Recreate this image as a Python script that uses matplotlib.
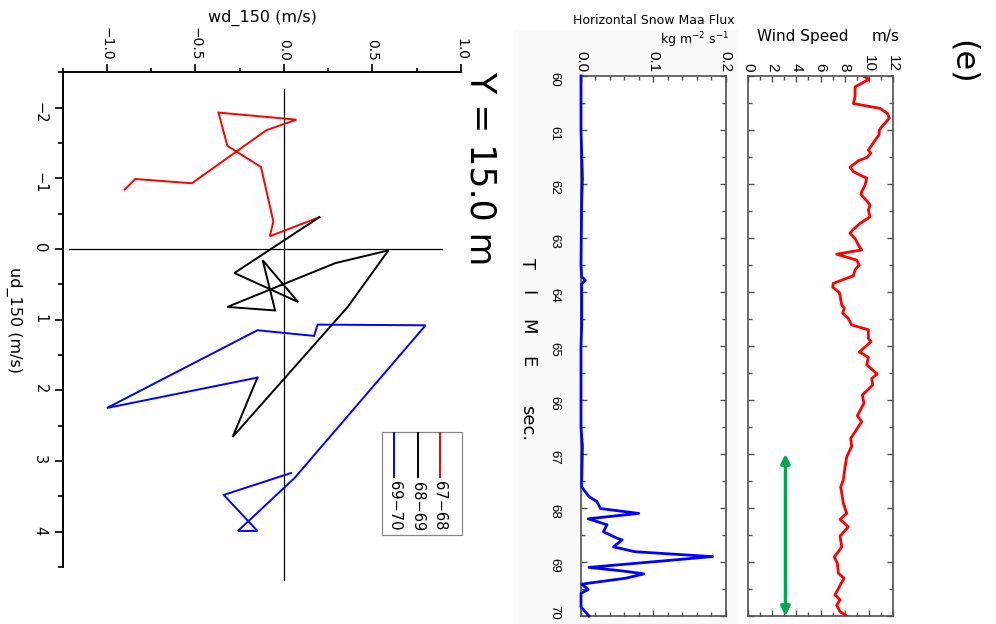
import matplotlib
matplotlib.use('Agg')
import matplotlib.pyplot as plt
from matplotlib.patches import Rectangle
from matplotlib.lines import Line2D
from matplotlib.ticker import MultipleLocator, FixedLocator, FormatStrFormatter, FuncFormatter

# ---------------- data ----------------
# hodograph (wd_150 horizontal, ud_150 vertical)
series_names = ['67\u221268', '68\u221269', '69\u221270']
series_colors = ['#ff0000', '#000000', '#0000ff']
ud_6768 = [-0.84, -0.99, -0.93, -1.68, -1.83, -1.93, -1.46, -1.16, -0.39, -0.18, -0.45]
wd_6768 = [-0.90, -0.84, -0.52, -0.10, 0.07, -0.37, -0.32, -0.13, -0.06, -0.08, 0.20]
ud_6869 = [-0.45, 0.34, 0.75, 0.16, 0.87, 0.82, 0.20, 0.02, 0.82, 2.66, 1.82]
wd_6869 = [0.20, -0.28, 0.08, -0.12, -0.05, -0.32, 0.29, 0.59, 0.36, -0.29, -0.15]
ud_6970 = [1.82, 2.25, 1.15, 1.23, 1.07, 1.08, 3.24, 3.99, 3.99, 3.48, 3.17]
wd_6970 = [-0.15, -1.00, -0.15, 0.17, 0.19, 0.80, 0.06, -0.26, -0.15, -0.34, 0.04]

# wind speed time series
wind_time = [60.00, 60.06, 60.20, 60.38, 60.51, 60.60, 60.69, 60.78, 60.94, 61.00,
             61.09, 61.28, 61.37, 61.43, 61.51, 61.57, 61.69, 61.77, 61.85, 61.89,
             62.02, 62.14, 62.20, 62.31, 62.39, 62.48, 62.61, 62.73, 62.84, 62.91,
             63.01, 63.16, 63.22, 63.30, 63.41, 63.50, 63.59, 63.70, 63.84, 63.91,
             64.01, 64.24, 64.30, 64.39, 64.49, 64.61, 64.70, 64.86, 64.92, 65.11,
             65.21, 65.35, 65.52, 65.60, 65.72, 65.91, 66.06, 66.29, 66.40, 66.62,
             66.71, 66.86, 67.05, 67.24, 67.48, 67.61, 67.73, 67.91, 68.10, 68.21,
             68.35, 68.52, 68.72, 68.91, 69.02, 69.21, 69.30, 69.43, 69.61, 69.70,
             69.80, 69.92, 70.00]
wind_speed = [9.54, 10.02, 8.86, 8.86, 8.72, 10.93, 11.53, 11.70, 11.07, 10.87,
              10.84, 10.24, 9.96, 10.16, 9.83, 9.13, 8.44, 8.72, 9.41, 9.83,
              9.69, 9.41, 9.35, 9.83, 10.10, 9.96, 10.10, 9.27, 8.72, 8.44,
              8.86, 9.21, 9.41, 7.34, 9.00, 9.21, 8.86, 8.72, 7.06, 7.01,
              7.56, 7.76, 7.97, 7.84, 8.30, 8.58, 9.96, 9.96, 10.18, 9.21,
              9.96, 9.83, 10.70, 10.24, 10.32, 9.46, 9.60, 9.05, 9.41, 8.77,
              8.50, 8.58, 8.17, 8.03, 7.89, 7.67, 7.76, 7.89, 8.17, 7.62,
              8.30, 7.62, 7.76, 7.14, 7.39, 7.48, 7.95, 7.62, 7.20, 7.62,
              7.34, 7.62, 8.17]

# horizontal snow mass flux time series
flux_time = [60.00, 61.00, 61.90, 62.30, 63.50, 63.72, 63.78, 63.85, 64.60, 65.00,
             66.50, 66.86, 67.50, 67.61, 67.79, 67.88, 68.01, 68.10, 68.20, 68.31,
             68.44, 68.56, 68.59, 68.72, 68.81, 68.90, 69.10, 69.17, 69.22, 69.30,
             69.41, 69.51, 69.58, 69.83, 70.00]
flux_value = [0.000, 0.000, 0.002, 0.001, 0.000, 0.001, 0.006, 0.001, 0.001, 0.000,
              0.000, 0.002, 0.001, 0.001, 0.011, 0.022, 0.027, 0.080, 0.010, 0.036,
              0.031, 0.050, 0.057, 0.045, 0.075, 0.182, 0.011, 0.060, 0.087, 0.062,
              0.001, 0.010, 0.000, 0.000, 0.011]

# time axis labels
time_ticks = [60, 61, 62, 63, 64, 65, 66, 67, 68, 69, 70]

# green double arrow (wind speed value, time span)
arrow_ws = 3.1
arrow_time = [67.0, 70.0]

# ---------------- layout helpers ----------------
W, H = 996, 624
fig = plt.figure(figsize=(9.96, 6.24), dpi=100)


def fx(x):
    return x / W


def fy(y):
    return 1 - y / H


def rect(x0, y0, x1, y1):
    return [x0 / W, 1 - y1 / H, (x1 - x0) / W, (y1 - y0) / H]


NARROW = ['Liberation Sans', 'DejaVu Sans']
SPINE = '#505050'
minus_fmt1 = FuncFormatter(lambda v, p: ('%.1f' % v).replace('-', '\u2212'))
minus_fmt0 = FuncFormatter(lambda v, p: ('%d' % round(v)).replace('-', '\u2212'))

# faint background behind flux panel
bg = Rectangle((fx(514), fy(624)), fx(736) - fx(514), fy(30) - fy(624),
               transform=fig.transFigure, color='#f9f9f9', zorder=-10)
fig.patches.append(bg)

# ---------------- hodograph ----------------
ax = fig.add_axes(rect(62.7, 72.3, 461, 567))
ax.set_xlim(-1.25, 1.0)
ax.set_ylim(4.5, -2.5)
ax.patch.set_alpha(0)
for s in ['right', 'bottom']:
    ax.spines[s].set_visible(False)
for s in ['top', 'left']:
    ax.spines[s].set_linewidth(1.4)
ax.xaxis.tick_top()
ax.xaxis.set_major_locator(FixedLocator([-1.0, -0.5, 0.0, 0.5, 1.0]))
ax.xaxis.set_minor_locator(FixedLocator([-1.25, -0.75, -0.25, 0.25, 0.75]))
ax.xaxis.set_major_formatter(minus_fmt1)
ax.yaxis.set_major_locator(MultipleLocator(1))
ax.yaxis.set_major_formatter(minus_fmt0)
ax.yaxis.set_minor_locator(FixedLocator([-2.5, -1.5, -0.5, 0.5, 1.5, 2.5, 3.5, 4.5]))
ax.tick_params(axis='x', which='major', length=5.5, width=1.2, pad=3, labelsize=10,
               labelrotation=-90)
ax.tick_params(axis='x', which='minor', length=3, width=1.2)
ax.tick_params(axis='y', which='major', length=6, width=1.2, pad=5, labelsize=10.5,
               labelrotation=-90)
ax.tick_params(axis='y', which='minor', length=3.5, width=1.2)

# reference cross lines
ax.plot([0, 0], [-2.26, 4.68], color='black', lw=0.9, clip_on=False)
ax.plot([-1.215, 0.89], [0, 0], color='black', lw=0.9, clip_on=False)

for wd, ud, c in zip([wd_6768, wd_6869, wd_6970], [ud_6768, ud_6869, ud_6970], series_colors):
    ax.plot(wd, ud, color=c, lw=1.4, solid_joinstyle='miter')

# legend (rotated) drawn manually
ax.add_patch(Rectangle((0.801, 0.0647), 0.2007, 0.2088, transform=ax.transAxes,
                       fill=False, edgecolor='#888888', lw=0.9, clip_on=False))
for name, c, lx in zip(series_names, series_colors, [0.947, 0.891, 0.833]):
    ax.add_line(Line2D([lx, lx], [0.182, 0.271], transform=ax.transAxes, color=c,
                       lw=1.4, clip_on=False))
    ax.text(lx, 0.123, name, transform=ax.transAxes, rotation=-90, ha='center',
            va='center', fontsize=10.5)

fig.text(fx(262), fy(18), 'wd_150 (m/s)', ha='center', va='center', fontsize=11.5)
fig.text(fx(14), fy(320), 'ud_150 (m/s)', ha='center', va='center', fontsize=11.5,
         rotation=-90)
fig.text(fx(481), fy(168), 'Y = 15.0 m', ha='center', va='center', fontsize=25,
         rotation=-90)

# ---------------- flux panel ----------------
ax2 = fig.add_axes(rect(581, 76, 725.5, 616))
ax2.plot(flux_value, flux_time, color='#0000ff', lw=2.0, clip_on=False, zorder=3)
ax2.set_xlim(0, 0.2)
ax2.set_ylim(70, 60)
ax2.xaxis.set_major_locator(FixedLocator([0.0, 0.1, 0.2]))
ax2.xaxis.set_major_formatter(FormatStrFormatter('%.1f'))
ax2.xaxis.set_minor_locator(MultipleLocator(0.02))
ax2.yaxis.set_major_locator(FixedLocator(time_ticks))
# the last label sits at the canvas edge; it is drawn separately a little higher
ax2.yaxis.set_major_formatter(FuncFormatter(
    lambda v, p: '' if round(v) == time_ticks[-1] else '%d' % round(v)))
ax2.yaxis.set_minor_locator(MultipleLocator(0.5))

# ---------------- wind panel ----------------
ax3 = fig.add_axes(rect(748, 76, 893, 616))
ax3.plot(wind_speed, wind_time, color='#ff0000', lw=2.0)
ax3.set_xlim(0, 12)
ax3.set_ylim(70, 60)
ax3.xaxis.set_major_locator(MultipleLocator(2))
ax3.xaxis.set_minor_locator(MultipleLocator(1))
ax3.yaxis.set_major_locator(MultipleLocator(1))
ax3.yaxis.set_minor_locator(MultipleLocator(0.5))
ax3.annotate('', xy=(arrow_ws, arrow_time[1]), xytext=(arrow_ws, arrow_time[0]),
             arrowprops=dict(arrowstyle='<|-|>', color='#00a651', lw=2.5,
                             mutation_scale=13, shrinkA=0, shrinkB=0))

for a in (ax2, ax3):
    for s in a.spines.values():
        s.set_color(SPINE)
        s.set_linewidth(1.2)
    a.tick_params(axis='both', which='both', direction='in', top=True, bottom=True,
                  left=True, right=True, labeltop=True, labelbottom=False,
                  color=SPINE, width=1.0)
    a.tick_params(which='major', length=4)
    a.tick_params(which='minor', length=3)
    a.tick_params(axis='x', labelrotation=-90, pad=3)

ax2.tick_params(axis='x', labelsize=11, labelfontfamily=NARROW)
ax2.tick_params(axis='y', labelrotation=-90, labelsize=9.5, pad=15, labelfontfamily=NARROW)
ax3.tick_params(axis='x', labelsize=11, labelfontfamily=NARROW)
ax3.tick_params(axis='y', labelleft=False)

fig.text(fx(554), fy(612), '%d' % time_ticks[-1], ha='center', va='center',
         fontsize=9.5, rotation=-90, family=NARROW)

fig.text(fx(573), fy(20), 'Horizontal Snow Maa Flux', ha='left', va='center', fontsize=9)
fig.text(fx(729), fy(40), r'kg m$^{-2}$ s$^{-1}$', ha='right', va='center', fontsize=9)
fig.text(fx(757), fy(36), 'Wind Speed', ha='left', va='center', fontsize=11)
fig.text(fx(900), fy(36), 'm/s', ha='right', va='center', fontsize=11)
fig.text(fx(962), fy(62), '(e)', ha='center', va='center', fontsize=23, rotation=-90)

for letter, yy in zip(['T', 'I', 'M', 'E', 'sec.'], [264, 293, 327, 362, 423]):
    fig.text(fx(527), fy(yy), letter, ha='center', va='center', fontsize=13, rotation=-90)

fig.savefig('out.png', dpi=100)
